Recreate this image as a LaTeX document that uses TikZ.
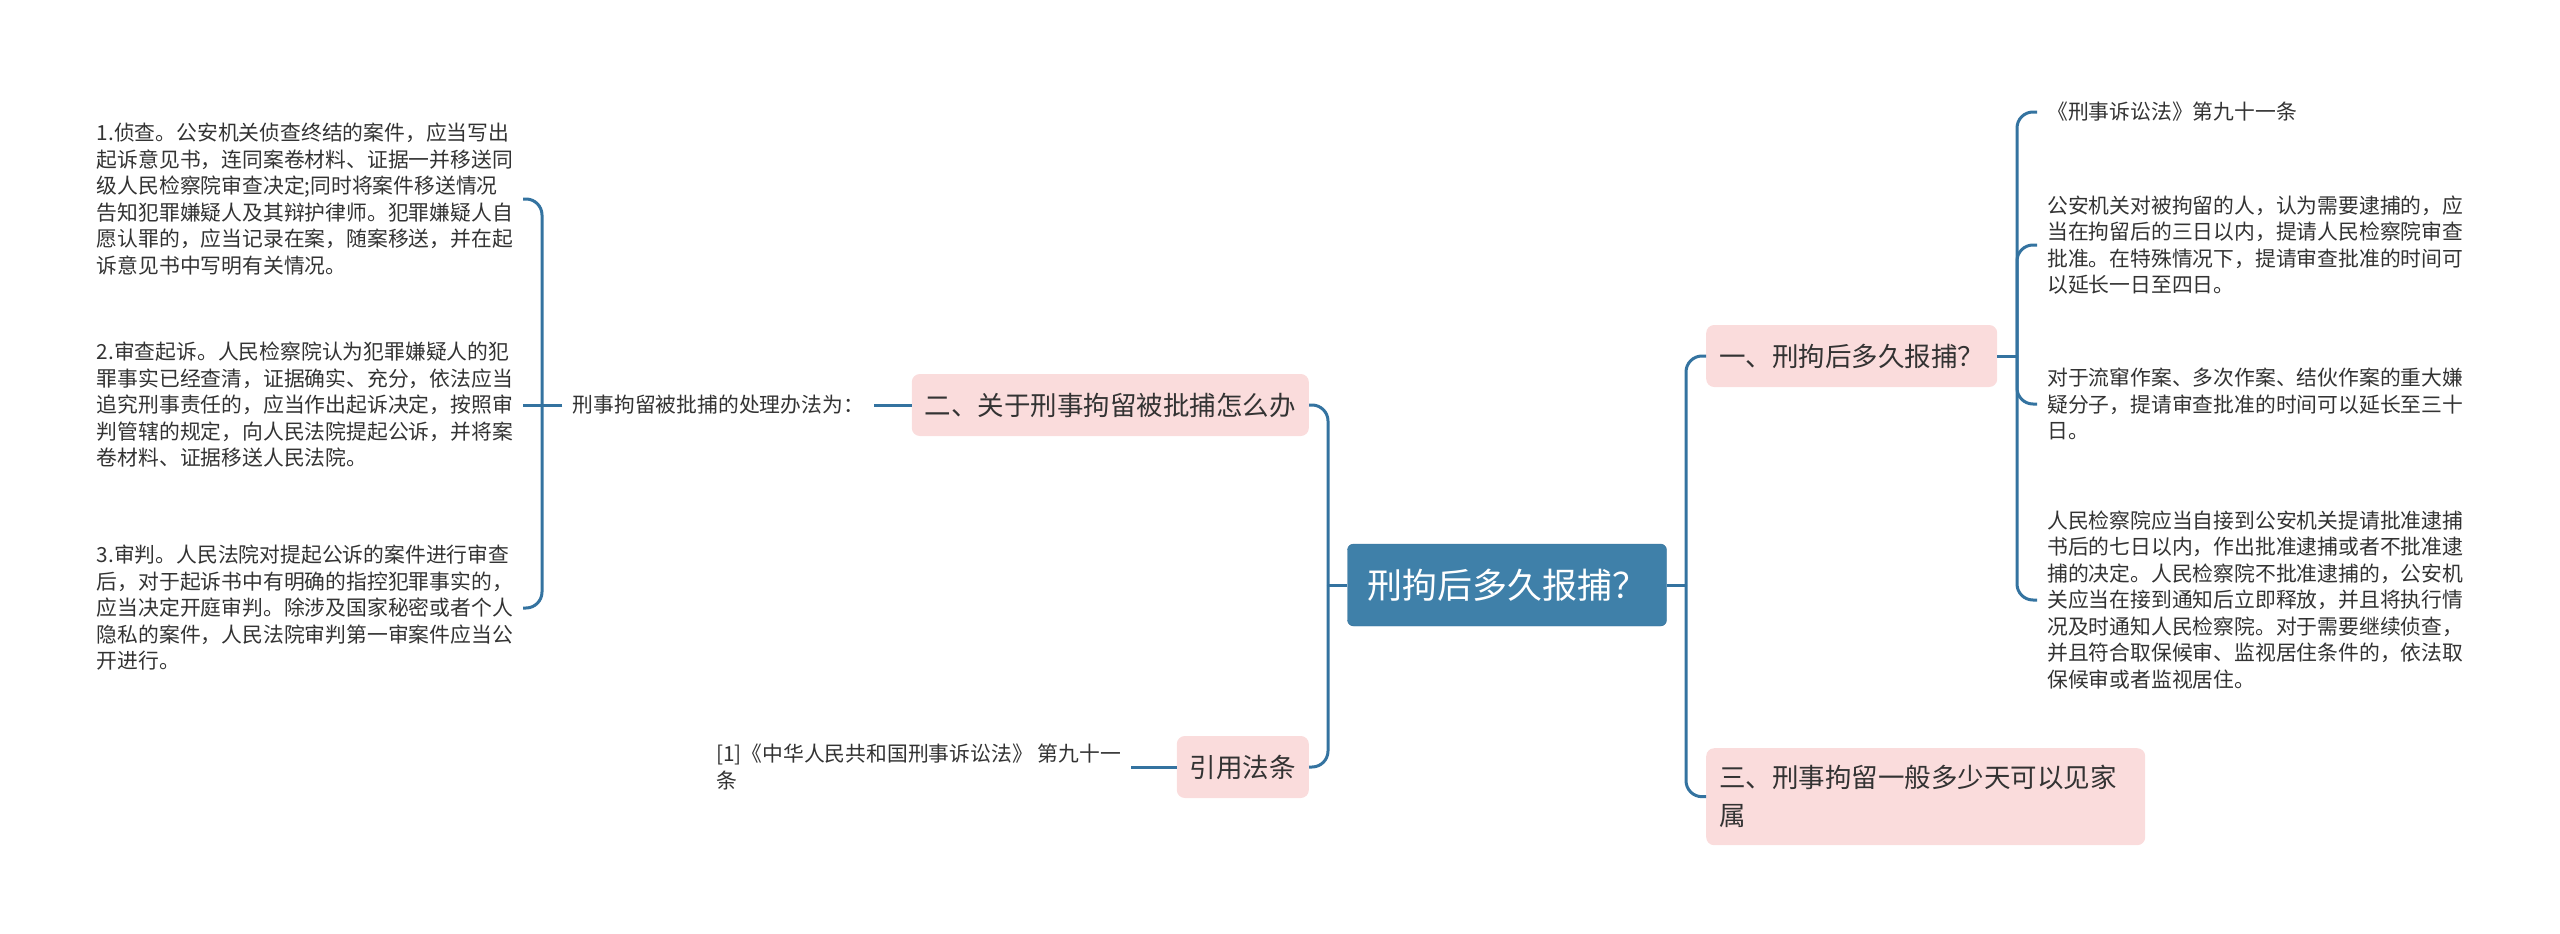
\documentclass[tikz,border=0pt]{standalone}
\usepackage{fontspec}
\newfontfamily\cjk{Noto Sans CJK SC}
\usetikzlibrary{positioning,calc}
\definecolor{linkblue}{HTML}{3473A0}
\definecolor{rootblue}{HTML}{3F80A9}
\definecolor{rootedge}{HTML}{34709A}
\definecolor{topicpink}{HTML}{FADCDC}
\definecolor{inkgray}{HTML}{333333}
\tikzset{
  root/.style  = {draw=rootedge, fill=rootblue, rounded corners=6pt, text=white,
                  font=\cjk\fontsize{35}{40}\selectfont, minimum width=319pt,
                  minimum height=82pt, inner xsep=14pt},
  topic/.style = {fill=topicpink, rounded corners=8pt, text=inkgray,
                  font=\cjk\fontsize{26.5}{38}\selectfont, minimum height=62pt,
                  inner xsep=13pt, align=left},
  leaf/.style  = {text=inkgray, font=\cjk\fontsize{20.8}{26.5}\selectfont,
                  align=left, inner xsep=10pt, inner ysep=2pt},
  link/.style  = {draw=linkblue, line width=3pt, rounded corners=16pt},
}

\begin{document}
\begin{tikzpicture}[x=1pt,y=-1pt]
\useasboundingbox (0,0) rectangle (2560,934);
\node[root] (ctr) at (1507,585) {刑拘后多久报捕？};
\node[topic,anchor=west] (n1) at (1706,356) {一、刑拘后多久报捕？};
\node[topic,anchor=east] (n2) at (1309,405) {二、关于刑事拘留被批捕怎么办};
\node[topic,anchor=north west,text width=413pt,minimum height=97pt] (n3) at (1706,748)
  {三、刑事拘留一般多少天可以见家\\属};
\node[topic,anchor=east] (n4) at (1309,767) {引用法条};
\node[leaf,anchor=east] (m) at (874,405) {刑事拘留被批捕的处理办法为：};
\node[leaf,anchor=east] (c1) at (523,199) {1.侦查。公安机关侦查终结的案件，应当写出\\
  起诉意见书，连同案卷材料、证据一并移送同\\级人民检察院审查决定;同时将案件移送情况\\
  告知犯罪嫌疑人及其辩护律师。犯罪嫌疑人自\\愿认罪的，应当记录在案，随案移送，并在起\\
  诉意见书中写明有关情况。};
\node[leaf,anchor=east] (c2) at (523,405) {2.审查起诉。人民检察院认为犯罪嫌疑人的犯\\
  罪事实已经查清，证据确实、充分，依法应当\\追究刑事责任的，应当作出起诉决定，按照审\\
  判管辖的规定，向人民法院提起公诉，并将案\\卷材料、证据移送人民法院。};
\node[leaf,anchor=east] (c3) at (523,608) {3.审判。人民法院对提起公诉的案件进行审查\\
  后，对于起诉书中有明确的指控犯罪事实的，\\应当决定开庭审判。除涉及国家秘密或者个人\\
  隐私的案件，人民法院审判第一审案件应当公\\开进行。};
\node[leaf,anchor=east] (lit) at (1131,767) {[1]《中华人民共和国刑事诉讼法》 第九十一\\条};
\node[leaf,anchor=west] (r1) at (2037,112) {《刑事诉讼法》第九十一条};
\node[leaf,anchor=west] (r2) at (2037,245) {公安机关对被拘留的人，认为需要逮捕的，应\\
  当在拘留后的三日以内，提请人民检察院审查\\批准。在特殊情况下，提请审查批准的时间可\\
  以延长一日至四日。};
\node[leaf,anchor=west] (r3) at (2037,404) {对于流窜作案、多次作案、结伙作案的重大嫌\\
  疑分子，提请审查批准的时间可以延长至三十\\日。};
\node[leaf,anchor=west] (r4) at (2037,600) {人民检察院应当自接到公安机关提请批准逮捕\\
  书后的七日以内，作出批准逮捕或者不批准逮\\捕的决定。人民检察院不批准逮捕的，公安机\\
  关应当在接到通知后立即释放，并且将执行情\\况及时通知人民检察院。对于需要继续侦查，\\
  并且符合取保候审、监视居住条件的，依法取\\保候审或者监视居住。};
\coordinate (lj) at (1328,585);
\coordinate (rj) at (1686,585);
\coordinate (aj) at (2017,356);
\coordinate (bj) at (542,405);
\draw[link] (ctr.west) -- (lj);
\draw[link] (ctr.east) -- (rj);
\foreach \t in {n2,n4} \draw[link] (lj) -- (lj |- \t.east) -- (\t.east);
\foreach \t in {n1,n3} \draw[link] (rj) -- (rj |- \t.west) -- (\t.west);
\draw[link] (n1.east) -- (aj);
\foreach \t in {r1,r2,r3,r4} \draw[link] (aj) -- (aj |- \t.west) -- (\t.west);
\draw[link] (n2.west) -- (m.east);
\draw[link] (m.west) -- (bj);
\foreach \t in {c1,c3} \draw[link] (bj) -- (bj |- \t.east) -- (\t.east);
\draw[link] (bj) -- (c2.east);
\draw[link] (n4.west) -- (lit.east);
\end{tikzpicture}
\end{document}
